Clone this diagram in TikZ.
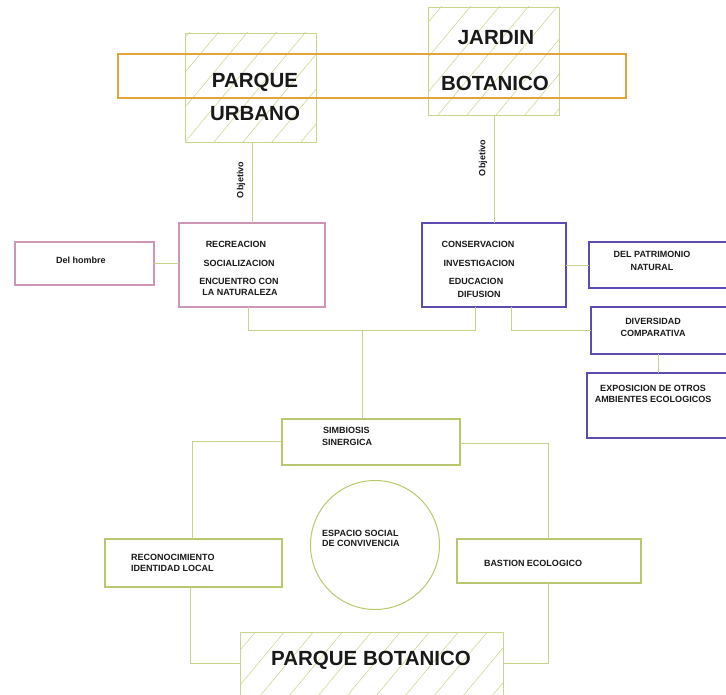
\documentclass[tikz,border=0pt]{standalone}
\usepackage{fontspec}
\setmainfont{Liberation Sans}
\definecolor{lgreen}{RGB}{196,212,140}
\definecolor{bgreen}{RGB}{184,200,110}
\definecolor{hgreen}{RGB}{200,214,140}
\definecolor{orangec}{RGB}{226,165,60}
\definecolor{pinkc}{RGB}{205,150,180}
\definecolor{bluec}{RGB}{95,75,175}
\definecolor{txtc}{RGB}{25,25,25}
\begin{document}
\begin{tikzpicture}[x=1pt,y=-1pt,
  lk/.style={draw=lgreen, line width=0.9pt},
  boxbase/.style={rectangle, inner sep=0pt, outer sep=0pt, line width=1.1pt},
  gbox/.style={boxbase, draw=bgreen},
  hbox/.style={boxbase, draw=hgreen, line width=0.9pt},
  pbox/.style={boxbase, draw=pinkc},
  bbox/.style={boxbase, draw=bluec},
  obox/.style={boxbase, draw=orangec, line width=1.2pt},
  txt/.style={font=\bfseries\fontsize{9}{11}\selectfont, text=txtc, inner sep=0pt},
  small/.style={font=\bfseries\fontsize{9}{10}\selectfont, text=txtc, inner sep=0pt},
  big/.style={font=\bfseries\fontsize{20.5}{24}\selectfont, text=txtc, inner sep=0pt},
  hatch/.style={draw=hgreen, line width=0.55pt}]
\useasboundingbox (0,0) rectangle (726,695);
\clip (0,0) rectangle (726,695);

% ---------- hatched boxes ----------
\node[hbox, minimum width=131pt, minimum height=109pt] (purb) at (250.5,87.5) {};
\node[hbox, minimum width=131pt, minimum height=108pt] (jard) at (493.5,61) {};
\node[hbox, minimum width=263pt, minimum height=88pt] (pbot) at (371.5,676) {};

\begin{scope}
\clip (purb.south west) rectangle (purb.north east);
\foreach \k in {-5,...,6} \draw[hatch] ([xshift=\k*29pt]purb.south west) -- ++(150,-180);
\end{scope}
\begin{scope}
\clip (jard.south west) rectangle (jard.north east);
\foreach \k in {-5,...,6} \draw[hatch] ([xshift=\k*29pt+10pt]jard.south west) -- ++(150,-180);
\end{scope}
\begin{scope}
\clip (pbot.south west) rectangle (pbot.north east);
\foreach \k in {-6,...,11} \draw[hatch] ([xshift=\k*29pt]pbot.south west) -- ++(150,-180);
\end{scope}

\node[obox, minimum width=508pt, minimum height=44pt] (band) at (372,76) {};

\node[big] (tparque) at (255,82) {PARQUE};
\node[big] (turbano) at (255,113) {URBANO};
\node[big] (tjardin) at (496,38) {JARDIN};
\node[big] (tbotan) at (495,83) {BOTANICO};

% ---------- middle boxes ----------
\node[pbox, minimum width=146pt, minimum height=84pt] (recre) at (252,265) {};
\node[pbox, minimum width=139pt, minimum height=43pt] (hombre) at (84.5,263.5) {};
\node[bbox, minimum width=144pt, minimum height=84pt] (conserv) at (494,265) {};
\node[bbox, minimum width=170pt, minimum height=46pt] (patr) at (674,265) {};
\node[bbox, minimum width=170pt, minimum height=47pt] (divers) at (676,330.5) {};
\node[bbox, minimum width=174pt, minimum height=65pt] (expos) at (674,405.5) {};

\node[txt] (t1) at (236,244) {RECREACION};
\node[txt] (t2) at (239,263) {SOCIALIZACION};
\node[txt] (t3) at (239,281) {ENCUENTRO CON};
\node[txt] (t4) at (240,292) {LA NATURALEZA};
\node[txt] (t5) at (81,260) {Del hombre};
\node[txt] (t6) at (478,244) {CONSERVACION};
\node[txt] (t7) at (479,263) {INVESTIGACION};
\node[txt] (t8) at (476,281) {EDUCACION};
\node[txt] (t9) at (479,294) {DIFUSION};
\node[txt] (t10) at (652,254) {DEL PATRIMONIO};
\node[txt] (t11) at (652,267) {NATURAL};
\node[txt] (t12) at (653,321) {DIVERSIDAD};
\node[txt] (t13) at (653,333) {COMPARATIVA};
\node[txt] (t14) at (653,388) {EXPOSICION DE OTROS};
\node[txt] (t15) at (653,399) {AMBIENTES ECOLOGICOS};

% ---------- bottom ----------
\node[gbox, minimum width=178pt, minimum height=46pt] (simb) at (371,442) {};
\node[gbox, minimum width=177pt, minimum height=48pt] (recon) at (193.5,563) {};
\node[gbox, minimum width=184pt, minimum height=44pt] (bast) at (549,561) {};
\node[circle, draw=bgreen, line width=1.0pt, minimum size=129pt, inner sep=0pt] (esp) at (375,545) {};

\node[txt, anchor=west] (t16) at (323,430) {SIMBIOSIS};
\node[txt, anchor=west] (t17) at (322,442) {SINERGICA};
\node[txt, anchor=west] (t18) at (131,557) {RECONOCIMIENTO};
\node[txt, anchor=west] (t19) at (131,568) {IDENTIDAD LOCAL};
\node[txt, anchor=west] (t20) at (322,533) {ESPACIO SOCIAL};
\node[txt, anchor=west] (t21) at (322,543) {DE CONVIVENCIA};
\node[txt] (t22) at (533,563) {BASTION ECOLOGICO};
\node[big] (t23) at (371,660) {PARQUE BOTANICO};

% ---------- connectors ----------
\draw[lk] ([xshift=1.5pt]purb.south) -- (recre.north);
\draw[lk] ([xshift=0.5pt]jard.south) -- (conserv.north);
\node[small, rotate=90] (obj1) at (241,180) {Objetivo};
\node[small, rotate=90] (obj2) at (483,158) {Objetivo};

\draw[lk] (hombre.east) -- (recre.west |- hombre.east);
\draw[lk] (conserv.east |- patr.west) -- (patr.west);
\coordinate (jn) at (362,330);
\draw[lk] ([xshift=-4pt]recre.south) |- (jn);
\draw[lk] ([xshift=-19pt]conserv.south) |- (jn);
\draw[lk] (jn) -- (jn |- simb.north);
\draw[lk] ([xshift=17pt]conserv.south) |- (divers.west);
\draw[lk] ([xshift=-18pt]divers.south) -- ([xshift=-18pt]divers.south |- expos.north);

\draw[lk] ([yshift=1pt]simb.west) -| ([xshift=-1.5pt]recon.north);
\draw[lk] ([yshift=-1pt]simb.east) -| ([xshift=-1pt]bast.north);
\draw[lk] ([xshift=-3.5pt]recon.south) |- ([yshift=13pt]pbot.west);
\draw[lk] ([xshift=-1pt]bast.south) |- ([yshift=13pt]pbot.east);
\end{tikzpicture}
\end{document}
